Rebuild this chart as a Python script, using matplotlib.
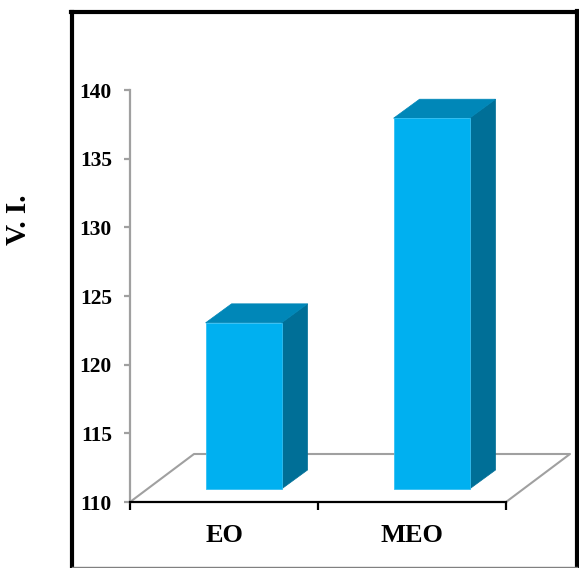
import matplotlib
matplotlib.use("Agg")
import matplotlib.pyplot as plt
from matplotlib.patches import Polygon
from matplotlib.lines import Line2D

plt.rcParams['font.family'] = ['Liberation Serif', 'DejaVu Serif']
plt.rcParams['font.weight'] = 'bold'

categories = ['EO', 'MEO']
values = [122.1, 137.0]
yticks = [110, 115, 120, 125, 130, 135, 140]

W, H = 579, 568
fig = plt.figure(figsize=(W / 100, H / 100), dpi=100)
ax = fig.add_axes([130 / W, 66 / H, 376 / W, 412 / H])
ax.set_xlim(0, 2)
ax.set_ylim(110, 140)
ax.patch.set_alpha(0)

# pixel -> data scale
px_x = 2 / 376
px_y = 30 / 412

# floor (parallelogram)
fdx, fdy = 64 * px_x, 48 * px_y
grey = '#a0a0a0'
ax.add_line(Line2D([0, fdx, 2 + fdx, 2], [110, 110 + fdy, 110 + fdy, 110],
                   color=grey, lw=1.5, clip_on=False, zorder=1))

# 3d bars
front_c, top_c, side_c = '#00b0f0', '#0087b8', '#006f97'
bdx, bdy = 26 * px_x, 19 * px_y
base = 110 + 13 * px_y
for i, v in enumerate(values):
    x0 = i + 0.402
    x1 = x0 + 0.404
    top = base + (v - 110)
    ax.add_patch(Polygon([(x1, base), (x1 + bdx, base + bdy), (x1 + bdx, top + bdy), (x1, top)],
                         closed=True, fc=side_c, ec=side_c, lw=0.5, clip_on=False, zorder=3))
    ax.add_patch(Polygon([(x0, top), (x0 + bdx, top + bdy), (x1 + bdx, top + bdy), (x1, top)],
                         closed=True, fc=top_c, ec=top_c, lw=0.5, clip_on=False, zorder=3))
    ax.add_patch(Polygon([(x0, base), (x1, base), (x1, top), (x0, top)],
                         closed=True, fc=front_c, ec='#33c0f4', lw=0.6, clip_on=False, zorder=4))

for s in ['top', 'right']:
    ax.spines[s].set_visible(False)
ax.spines['left'].set_color(grey)
ax.spines['left'].set_linewidth(1.6)
ax.spines['bottom'].set_color('black')
ax.spines['bottom'].set_linewidth(1.6)

ax.set_yticks(yticks)
ax.tick_params(axis='y', colors=grey, length=4, width=1.6, pad=9, labelsize=15.5,
               labelcolor='black')
ax.set_xticks([0, 1, 2])
ax.set_xticklabels([])
ax.set_xticks([0.5, 1.5], minor=True)
ax.set_xticklabels(categories, minor=True)
ax.tick_params(axis='x', which='major', length=6, width=1.6, color='black')
ax.tick_params(axis='x', which='minor', length=0, pad=16, labelsize=19)
for lab in ax.get_yticklabels() + ax.get_xticklabels(minor=True):
    lab.set_fontweight('bold')

fig.text(19 / W, 1 - 220 / H, 'V. I.', rotation=90, ha='center', va='center',
         fontsize=21, fontweight='bold')

# outer frame
def fl(xs, ys, **kw):
    fig.add_artist(Line2D([x / W for x in xs], [1 - y / H for y in ys],
                          transform=fig.transFigure, **kw))

fl([72, 72], [12, 568], color='black', lw=3)
fl([70.5, 578], [12, 12], color='black', lw=3)
fl([577, 577], [10.5, 568], color='black', lw=3)
fl([72, 577], [566.5, 566.5], color='#808080', lw=1)

fig.savefig('out.png', dpi=100)
